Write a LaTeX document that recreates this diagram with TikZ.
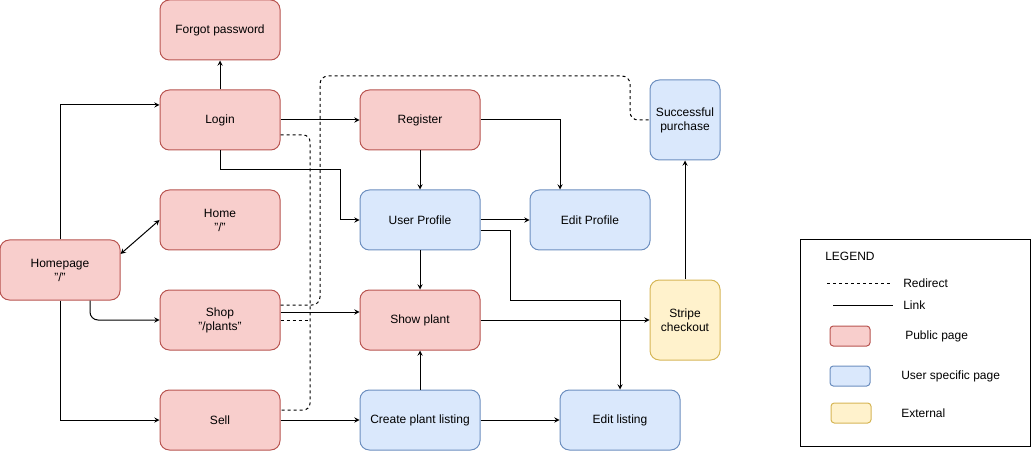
\documentclass[tikz,border=0pt]{standalone}
\usepackage{fontspec}
\setmainfont{Liberation Sans}
\usepackage{xcolor}
\definecolor{pubfill}{HTML}{F8CECC}
\definecolor{publine}{HTML}{B85450}
\definecolor{userfill}{HTML}{DAE8FC}
\definecolor{userline}{HTML}{6C8EBF}
\definecolor{extfill}{HTML}{FFF2CC}
\definecolor{extline}{HTML}{D6B656}

\begin{document}
\begin{tikzpicture}[x=0.75pt, y=-0.75pt, >=stealth,
    font=\fontsize{9}{10.5}\selectfont,
    page/.style={rounded corners=7pt, line width=0.75pt, align=center,
        inner sep=0pt, minimum width=90pt, minimum height=45pt},
    public/.style={page, draw=publine, fill=pubfill},
    user/.style={page, draw=userline, fill=userfill},
    external/.style={page, draw=extline, fill=extfill},
    link/.style={->, line width=0.75pt},
    redirect/.style={line width=0.75pt, dash pattern=on 2.25pt off 2.25pt},
    key/.style={rounded corners=2.5pt, line width=0.75pt, minimum width=30pt, minimum height=15pt},
    keytext/.style={anchor=west, inner sep=0pt}]
\useasboundingbox (0,0) rectangle (1031,452);

\node[public] (forgot)   at (220,30)  {Forgot password};
\node[public] (login)    at (220,120) {Login};
\node[public] (home)     at (220,220) {Home\\"/"};
\node[public] (homepage) at (60,270)  {Homepage\\"/"};
\node[public] (shop)     at (220,320) {Shop\\"/plants"};
\node[public] (sell)     at (220,420) {Sell};
\node[public] (register) at (420,120) {Register};
\node[user]   (profile)  at (420,220) {User Profile};
\node[public] (plant)    at (420,320) {Show plant};
\node[user]   (create)   at (420,420) {Create plant listing};
\node[user]   (editprof) at (590,220) {Edit Profile};
\node[user]   (editlist) at (620,420) {Edit listing};
\node[user, minimum width=52.5pt, minimum height=60pt]     (success) at (685,120) {Successful\\purchase};
\node[external, minimum width=52.5pt, minimum height=60pt] (stripe)  at (685,320) {Stripe\\checkout};

\coordinate (bend) at (340,170);
\coordinate (jr) at (310,300);
\coordinate (t1) at (320,76);
\coordinate (t2) at (630,76);
\coordinate (k)  at (510,300);

\draw[link] (login) -- (forgot);
\draw[link] (homepage.north) |- ([yshift=11.25pt]login.west);
\draw[<->, line width=0.75pt] ([yshift=12pt]homepage.east) -- (home.west);
\draw[link, rounded corners=6pt] ([xshift=22.5pt]homepage.south) |- (shop.west);
\draw[link] (homepage.south) |- (sell.west);
\draw[link] (login) -- (register);
\draw[link] (login.south) |- (bend) |- (profile.west);
\draw[redirect, rounded corners=5pt] ([yshift=-11.25pt]login.east) -| (jr) |- ([yshift=7.5pt]sell.east);
\draw[redirect] (shop.east) -- (jr |- shop.east);
\draw[redirect, rounded corners=6pt] ([yshift=11.25pt]shop.east) -| (t1) -- (t2) |- (success.west);
\draw[link] ([yshift=6pt]shop.east) -- ([yshift=6pt]plant.west);
\draw[link] (register) -- (profile);
\draw[link] (register.east) -| ([xshift=-22.5pt]editprof.north);
\draw[link] (profile) -- (editprof);
\draw[link] ([yshift=-8.25pt]profile.east) -| (k) -| (editlist.north);
\draw[link] (profile) -- (plant);
\draw[link] (plant) -- (stripe);
\draw[link] (stripe) -- (success);
\draw[link] (create) -- (plant);
\draw[link] (create) -- (editlist);
\draw[link] (sell) -- (create);

\draw[line width=0.75pt] (800,240) rectangle (1030,446);
\node[keytext] (legend) at (825,256) {LEGEND};
\coordinate (d1) at (827,283);
\coordinate (d2) at (891,283);
\coordinate (s1) at (833,305);
\coordinate (s2) at (893,305);
\draw[redirect] (d1) -- (d2);
\draw[line width=0.75pt] (s1) -- (s2);
\node[keytext] (lred)  at (903,283) {Redirect};
\node[keytext] (llink) at (903,305) {Link};
\node[key, draw=publine, fill=pubfill]   (kpub)  at (850,336) {};
\node[key, draw=userline, fill=userfill] (kuser) at (850,376) {};
\node[key, draw=extline, fill=extfill]   (kext)  at (851,413) {};
\node[keytext] (lpub)  at (905,336) {Public page};
\node[keytext] (luser) at (901,376) {User specific page};
\node[keytext] (lext)  at (901,413) {External};
\end{tikzpicture}
\end{document}
